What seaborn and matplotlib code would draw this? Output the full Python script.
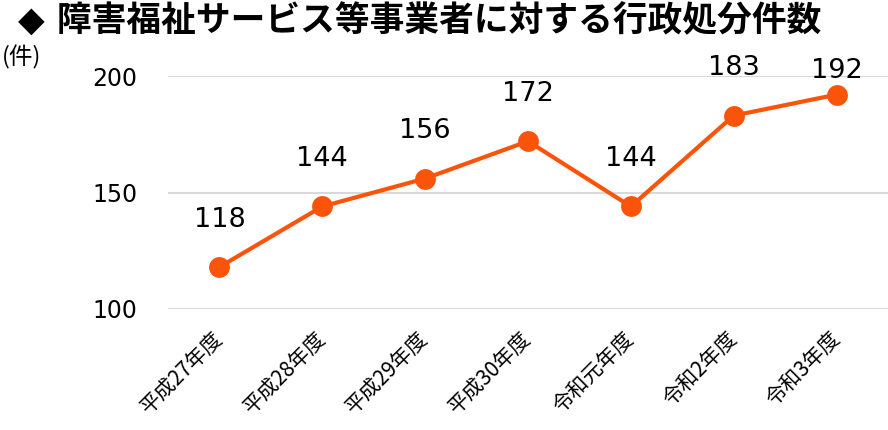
import numpy as np
import pandas as pd
import seaborn as sns
import matplotlib.pyplot as plt

# data ########################################################################
years = ['平成27年度', '平成28年度', '平成29年度', '平成30年度',
         '令和元年度', '令和2年度', '令和3年度']
counts = [118, 144, 156, 172, 144, 183, 192]
yticks = [100, 150, 200]

title = '◆ 障害福祉サービス等事業者に対する行政処分件数'
unit = '(件)'

df = pd.DataFrame({'year': years, 'count': counts})

# style #######################################################################
sns.set_style('white')
plt.rcParams['font.family'] = ['Noto Sans CJK JP', 'DejaVu Sans']
plt.rcParams['text.color'] = 'black'
plt.rcParams['xtick.color'] = 'black'
plt.rcParams['ytick.color'] = 'black'
orange = '#FA540A'

fig = plt.figure(figsize=(8.88, 4.30), dpi=100)
ax = fig.add_axes([168 / 888, 1 - 309 / 430, 1 - 168 / 888, 233 / 430])

sns.pointplot(
    data=df, x='year', y='count',
    color=orange, errorbar=None,
    markers='o', markersize=15, linewidth=3,
    ax=ax,
)
for line in ax.lines:
    line.set_clip_on(False)
    line.set_markeredgewidth(0)
for coll in ax.collections:
    coll.set_clip_on(False)

# data labels (last one pulled down so it stays clear of the title)
for i, v in enumerate(counts):
    off = 17 if i == len(counts) - 1 else 34
    ax.annotate(str(v), (i, v), xytext=(0, off), textcoords='offset points',
                ha='center', va='center', fontsize=19.5, family='DejaVu Sans',
                annotation_clip=False)

ax.set_ylim(100, 200)
ax.set_xlim(-0.5, len(years) - 0.5)
ax.set_yticks(yticks)
ax.set_yticklabels([str(t) for t in yticks], family='DejaVu Sans', fontsize=17)
ax.tick_params(axis='y', length=0, pad=22)
ax.tick_params(axis='x', length=0, pad=19)
ax.set_xticks(range(len(years)))
ax.set_xticklabels(years, fontsize=15, rotation=45, ha='right', va='center',
                   rotation_mode='anchor')
ax.set_xlabel('')
ax.set_ylabel('')
ax.grid(axis='y', color='#d9d9d9', linewidth=1.5)
ax.grid(axis='x', visible=False)
ax.set_axisbelow(True)
sns.despine(ax=ax, left=True, bottom=True)

fig.text(18 / 888, 1 - 22 / 430, title, fontsize=25, fontweight='bold',
         va='center', ha='left', family=['DejaVu Sans', 'Noto Sans CJK JP'])
fig.text(2 / 888, 1 - 57 / 430, unit, fontsize=17, va='center', ha='left')

fig.savefig('out.png', dpi=100)
